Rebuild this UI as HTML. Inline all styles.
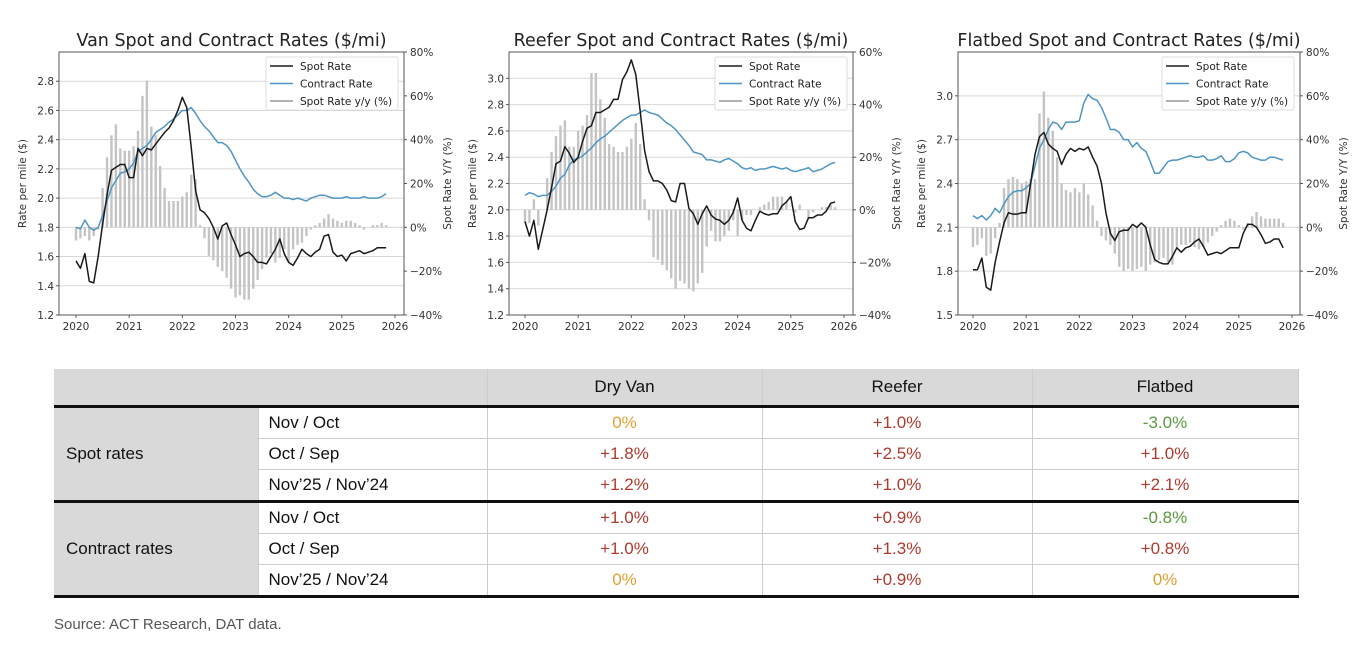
<!DOCTYPE html>
<html><head><meta charset="utf-8">
<style>
body{margin:0;background:#fff;width:1362px;height:648px;overflow:hidden;font-family:"Liberation Sans",sans-serif;}
svg text{font-family:"DejaVu Sans","Liberation Sans",sans-serif;}
#tbl{position:absolute;left:54px;top:369px;border-collapse:collapse;table-layout:fixed;width:1244px;font-family:"Liberation Sans",sans-serif;font-size:17px;color:#111;}
#tbl td{padding:0;height:30px;line-height:20px;border-bottom:1px solid #ccc;border-right:1px solid #ccc;overflow:hidden;white-space:nowrap;}
.g{background:#d9d9d9;}
.c{text-align:center;}
.o{color:#e0a030}.r{color:#b03a2e}.gr{color:#5a9a40}
.thick td{border-bottom:3px solid #111 !important;}
.src{position:absolute;left:54px;top:616px;font-size:15px;color:#555;}
</style></head><body>
<svg id="charts" width="1362" height="360" style="position:absolute;left:0;top:0"></svg>

<table id="tbl">
<colgroup><col style="width:204px"><col style="width:229px"><col style="width:275px"><col style="width:270px"><col style="width:266px"></colgroup>
<tr class="thick">
<td class="g" style="height:36px" colspan="2"></td>
<td class="g c">Dry Van</td>
<td class="g c">Reefer</td>
<td class="g c">Flatbed</td></tr>
<tr><td class="g" rowspan="3" style="padding-left:12px;border-bottom:3px solid #111">Spot rates</td>
<td style="padding-left:10px">Nov / Oct</td><td class="c o">0%</td><td class="c r">+1.0%</td><td class="c gr">-3.0%</td></tr>
<tr><td style="padding-left:10px">Oct / Sep</td><td class="c r">+1.8%</td><td class="c r">+2.5%</td><td class="c r">+1.0%</td></tr>
<tr class="thick"><td style="padding-left:10px">Nov’25 / Nov’24</td><td class="c r">+1.2%</td><td class="c r">+1.0%</td><td class="c r">+2.1%</td></tr>
<tr><td class="g" rowspan="3" style="padding-left:12px;border-bottom:3px solid #111">Contract rates</td>
<td style="padding-left:10px">Nov / Oct</td><td class="c r">+1.0%</td><td class="c r">+0.9%</td><td class="c gr">-0.8%</td></tr>
<tr><td style="padding-left:10px">Oct / Sep</td><td class="c r">+1.0%</td><td class="c r">+1.3%</td><td class="c r">+0.8%</td></tr>
<tr class="thick"><td style="padding-left:10px">Nov’25 / Nov’24</td><td class="c o">0%</td><td class="c r">+0.9%</td><td class="c o">0%</td></tr>
</table>
<div class="src">Source: ACT Research, DAT data.</div>

<script>
const years = ["2020","2021","2022","2023","2024","2025","2026"];
const vanSpot = [1.57,1.52,1.62,1.43,1.42,1.60,1.82,2.02,2.19,2.21,2.23,2.23, 2.14,2.14,2.34,2.29,2.34,2.33,2.37,2.41,2.45,2.48,2.53,2.60, 2.69,2.62,2.35,2.05,1.92,1.90,1.86,1.80,1.72,1.81,1.83,1.75, 1.68,1.60,1.62,1.63,1.60,1.56,1.56,1.55,1.60,1.65,1.72,1.62, 1.56,1.54,1.59,1.65,1.62,1.60,1.63,1.65,1.74,1.75,1.63,1.60, 1.61,1.57,1.62,1.63,1.64,1.62,1.63,1.64,1.66,1.66,1.66];
const vanContract = [1.80,1.79,1.85,1.80,1.78,1.80,1.88,1.98,2.07,2.12,2.17,2.18, 2.20,2.24,2.32,2.34,2.36,2.40,2.45,2.47,2.49,2.52,2.54,2.57, 2.60,2.60,2.62,2.58,2.53,2.49,2.46,2.42,2.38,2.38,2.36,2.32, 2.26,2.20,2.15,2.11,2.06,2.03,2.01,2.01,2.02,2.04,2.02,2.00, 2.00,1.99,2.00,1.99,1.98,2.00,2.01,2.02,2.02,2.01,2.00,2.00, 2.00,2.01,2.00,2.00,2.00,2.01,2.00,2.00,2.00,2.01,2.03];
const vanYoy = [-6,-5,-4,-6,-4,-1,18,32,42,47,36,35, 35,37,44,60,67,46,42,28,18,12,12,12, 14,16,24,22,1,-5,-13,-15,-18,-20,-23,-28, -32,-31,-33,-33,-28,-24,-19,-14,-12,-16,-14,-10, -16,-10,-8,-7,-4,-1,1,2,4,6,4,3, 2,3,3,2,1,-1,0,1,1,2,1];
const reeferSpot = [1.91,1.80,1.92,1.70,1.85,2.00,2.17,2.35,2.37,2.48,2.43,2.36, 2.40,2.52,2.62,2.64,2.74,2.74,2.76,2.78,2.84,2.84,2.99,3.05, 3.14,3.03,2.75,2.45,2.29,2.22,2.22,2.20,2.15,2.07,2.06,2.20, 2.20,2.01,1.97,1.89,1.97,2.03,1.96,1.93,1.92,1.89,1.92,1.98, 2.09,1.92,1.86,1.84,1.92,1.99,1.97,1.96,1.97,1.97,2.03,2.06, 2.10,1.91,1.85,1.86,1.94,1.94,1.96,1.96,1.99,2.05,2.06];
const reeferContract = [2.11,2.13,2.12,2.10,2.11,2.11,2.14,2.18,2.24,2.27,2.34,2.38, 2.39,2.41,2.44,2.47,2.51,2.54,2.56,2.59,2.62,2.65,2.68,2.70, 2.72,2.72,2.74,2.76,2.74,2.73,2.72,2.69,2.66,2.64,2.61,2.57, 2.53,2.49,2.44,2.43,2.42,2.38,2.38,2.37,2.36,2.38,2.39,2.37, 2.35,2.32,2.31,2.32,2.30,2.31,2.31,2.32,2.33,2.32,2.31,2.32, 2.30,2.29,2.30,2.31,2.32,2.29,2.30,2.31,2.33,2.35,2.36];
const reeferYoy = [-5,-5,4,-6,0,12,22,28,32,34,24,24, 30,32,36,52,52,42,35,25,24,22,22,24, 27,33,25,4,-4,-18,-19,-21,-23,-26,-30,-27, -28,-30,-31,-28,-24,-14,-8,-12,-12,-10,-8,-4, -10,-4,-2,-2,0,1,2,3,5,5,5,3, 0,-1,2,0,-3,-1,0,1,1,2,1];
const flatSpot = [1.81,1.81,1.89,1.69,1.67,1.86,2.00,2.13,2.20,2.19,2.19,2.20, 2.20,2.40,2.60,2.72,2.75,2.67,2.64,2.62,2.53,2.60,2.64,2.62, 2.64,2.63,2.65,2.58,2.52,2.40,2.20,2.06,2.01,2.07,2.08,2.08, 2.12,2.10,2.13,2.10,1.98,1.88,1.86,1.85,1.85,1.90,1.96,1.93, 1.96,1.97,2.00,2.02,1.97,1.91,1.92,1.93,1.92,1.94,1.96,1.96, 1.96,2.06,2.12,2.12,2.10,2.05,1.99,2.00,2.02,2.02,1.96];
const flatContract = [2.18,2.16,2.18,2.15,2.18,2.23,2.20,2.26,2.31,2.34,2.35,2.35, 2.37,2.40,2.52,2.64,2.70,2.77,2.82,2.81,2.77,2.82,2.82,2.82, 2.83,2.95,3.01,2.98,2.97,2.92,2.85,2.77,2.77,2.75,2.70,2.70, 2.65,2.68,2.64,2.62,2.55,2.47,2.47,2.51,2.55,2.56,2.56,2.57, 2.58,2.59,2.58,2.58,2.59,2.56,2.56,2.57,2.59,2.55,2.55,2.57, 2.61,2.62,2.61,2.58,2.57,2.56,2.56,2.58,2.58,2.57,2.56];
const flatYoy = [-9,-8,-5,-13,-12,-5,2,18,22,23,22,20, 21,22,22,52,62,50,44,32,20,17,16,18, 16,20,15,10,3,-4,-6,-8,-12,-18,-20,-19, -20,-19,-18,-20,-17,-16,-15,-14,-17,-17,-9,-8, -8,-7,-9,-10,-9,-7,-4,-2,1,3,4,3, 1,-1,2,5,7,5,4,4,4,4,2];
const vanLeftTicks = [1.2,1.4,1.6,1.8,2.0,2.2,2.4,2.6,2.8];
const reeferLeftTicks = [1.2,1.4,1.6,1.8,2.0,2.2,2.4,2.6,2.8,3.0];
const flatLeftTicks = [1.5,1.8,2.1,2.4,2.7,3.0];
const rightTicks80 = [-40,-20,0,20,40,60,80];
const rightTicks60 = [-40,-20,0,20,40,60];

const NS="http://www.w3.org/2000/svg";
const svg=document.getElementById('charts');
function mk(tag,attrs,parent,txt){const e=document.createElementNS(NS,tag);for(const k in attrs)e.setAttribute(k,attrs[k]);if(txt!==undefined)e.textContent=txt;(parent||svg).appendChild(e);return e;}

function drawChart(cfg){
  const g=mk('g',{});
  
  
  const L=cfg.x0,R=cfg.x1,T=52,B=315;
  const xS=i=>cfg.x2020+i*(cfg.x2026-cfg.x2020)/72;
  const yL=v=>B-(v-cfg.lmin)/(cfg.lmax-cfg.lmin)*(B-T);
  const yR=v=>B-(v-cfg.rmin)/(cfg.rmax-cfg.rmin)*(B-T);
  cfg.lticks.forEach(t=>{
    const l=mk('line',{x1:L,x2:R,y1:yL(t),y2:yL(t),stroke:'#d8d8d8','stroke-width':1},g);
    
    
    const tx=mk('text',{x:L-5,y:yL(t)+4,'text-anchor':'end','font-size':10.5,fill:'#333'},g,t.toFixed(1));
    
    
    mk('line',{x1:L-3,x2:L,y1:yL(t),y2:yL(t),stroke:'#555'},g);
  });
  cfg.rticks.forEach(t=>{
    mk('line',{x1:R,x2:R+3,y1:yR(t),y2:yR(t),stroke:'#555'},g);
    const tx=mk('text',{x:R+6,y:yR(t)+4,'font-size':10.5,fill:'#333'},g,(t<0?'\u2212'+(-t):t)+'%');
    
    
  });
  years.forEach((yr,k)=>{
    const x=xS(k*12);
    mk('line',{x1:x,x2:x,y1:B,y2:B+3,stroke:'#555'},g);
    const tx=mk('text',{x:x,y:B+15,'text-anchor':'middle','font-size':10.5,fill:'#333'},g,yr);
    
    
  });
  cfg.yoy.forEach((v,i)=>{
    const y0=yR(0),y1=yR(v);
    const b=mk('rect',{x:xS(i)-1.2,y:Math.min(y0,y1),width:2.4,height:Math.abs(y1-y0),fill:'#c4c4c4'},g);
    
    
  });
  const line=(arr,col,name)=>{
    const p=mk('polyline',{points:arr.map((v,i)=>xS(i)+','+yL(v)).join(' '),fill:'none',stroke:col,'stroke-width':1.5,'stroke-linejoin':'round'},g);
    
    
  };
  line(cfg.contract,'#4f95c4','contract-rate-line');
  line(cfg.spot,'#1a1a1a','spot-rate-line');
  const fr=mk('rect',{x:L,y:T,width:R-L,height:B-T,fill:'none',stroke:'#555','stroke-width':1},g);
  
  
  const ti=mk('text',{x:(L+R)/2,y:46,'text-anchor':'middle','font-size':17.5,fill:'#222'},g,cfg.title);
  
  
  const al=mk('text',{x:0,y:0,'text-anchor':'middle','font-size':10.5,fill:'#333',transform:`translate(${L-33},${(T+B)/2}) rotate(-90)`},g,'Rate per mile ($)');
  
  
  const ar=mk('text',{x:0,y:0,'text-anchor':'middle','font-size':10.5,fill:'#333',transform:`translate(${R+47},${(T+B)/2}) rotate(-90)`},g,'Spot Rate Y/Y (%)');
  
  
  const lx=R-138,ly=57;
  const lg=mk('g',{},g);
  
  
  mk('rect',{x:lx,y:ly,width:132,height:53,fill:'#fff',stroke:'#ddd',rx:2},lg);
  [['Spot Rate','#1a1a1a'],['Contract Rate','#4f95c4'],['Spot Rate y/y (%)','#999']].forEach((e,k)=>{
    const yy=ly+9+k*17.5;
    mk('line',{x1:lx+4,x2:lx+27,y1:yy,y2:yy,stroke:e[1],'stroke-width':1.6},lg);
    const t=mk('text',{x:lx+34,y:yy+4,'font-size':10.5,fill:'#222'},lg,e[0]);
    
    
  });
}
drawChart({key:'van',title:'Van Spot and Contract Rates ($/mi)',x0:59,x1:404,x2020:76,x2026:395,lmin:1.2,lmax:3.0,rmin:-40,rmax:80,lticks:vanLeftTicks,rticks:rightTicks80,spot:vanSpot,contract:vanContract,yoy:vanYoy});
drawChart({key:'reefer',title:'Reefer Spot and Contract Rates ($/mi)',x0:509,x1:853,x2020:525,x2026:844,lmin:1.2,lmax:3.2,rmin:-40,rmax:60,lticks:reeferLeftTicks,rticks:rightTicks60,spot:reeferSpot,contract:reeferContract,yoy:reeferYoy});
drawChart({key:'flatbed',title:'Flatbed Spot and Contract Rates ($/mi)',x0:958,x1:1300,x2020:973,x2026:1292,lmin:1.5,lmax:3.3,rmin:-40,rmax:80,lticks:flatLeftTicks,rticks:rightTicks80,spot:flatSpot,contract:flatContract,yoy:flatYoy});
</script>
</body></html>
